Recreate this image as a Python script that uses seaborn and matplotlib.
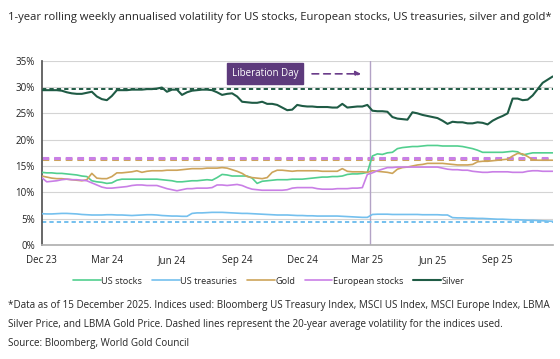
import pandas as pd
import numpy as np
import matplotlib.pyplot as plt
import seaborn as sns

sns.set_theme(style="white")
plt.rcParams['font.family'] = ['Open Sans', 'DejaVu Sans']

## Weekly volatility (%), Dec 23 - Dec 25

dates = pd.date_range('2023-12-31', periods=103, freq='7D')

us_stocks = [
    13.8, 13.7, 13.7, 13.6, 13.6, 13.5, 13.4, 13.3, 13.1, 13.0,
    12.2, 12.0, 11.9, 11.7, 11.8, 12.3, 12.5, 12.5, 12.5, 12.5,
    12.5, 12.5, 12.5, 12.5, 12.4, 12.3, 12.2, 12.0, 12.0, 12.1,
    12.2, 12.2, 12.3, 12.4, 12.3, 12.8, 13.4, 13.3, 13.1, 13.1,
    13.1, 13.1, 12.7, 11.7, 12.1, 12.2, 12.3, 12.4, 12.4, 12.4,
    12.5, 12.5, 12.5, 12.6, 12.7, 12.8, 12.9, 12.9, 13.0, 13.0,
    13.1, 13.4, 13.5, 13.5, 13.6, 13.8, 16.9, 17.3, 17.2, 17.5,
    17.6, 18.3, 18.5, 18.6, 18.7, 18.7, 18.8, 18.9, 18.9, 18.9,
    18.8, 18.8, 18.8, 18.8, 18.7, 18.5, 18.3, 18.0, 17.6, 17.6,
    17.6, 17.6, 17.6, 17.7, 17.8, 17.7, 17.1, 17.3, 17.5, 17.5,
    17.5, 17.5, 17.5,
]

us_treasuries = [
    5.95, 5.9, 5.9, 5.95, 6.0, 6.0, 5.95, 5.9, 5.8, 5.75,
    5.7, 5.7, 5.7, 5.75, 5.75, 5.7, 5.7, 5.65, 5.6, 5.65,
    5.7, 5.75, 5.75, 5.7, 5.6, 5.55, 5.5, 5.5, 5.45, 5.45,
    6.0, 6.1, 6.1, 6.15, 6.2, 6.2, 6.2, 6.15, 6.1, 6.05,
    6.0, 6.0, 5.95, 5.9, 5.85, 5.8, 5.75, 5.7, 5.7, 5.7,
    5.65, 5.6, 5.6, 5.55, 5.55, 5.5, 5.5, 5.5, 5.5, 5.5,
    5.45, 5.4, 5.35, 5.3, 5.25, 5.25, 5.8, 5.85, 5.85, 5.85,
    5.8, 5.8, 5.8, 5.8, 5.8, 5.8, 5.75, 5.75, 5.75, 5.75,
    5.7, 5.7, 5.2, 5.15, 5.15, 5.1, 5.1, 5.05, 5.05, 5.0,
    4.95, 4.9, 4.9, 4.85, 4.8, 4.8, 4.75, 4.7, 4.7, 4.65,
    4.6, 4.55, 4.5,
]

gold = [
    13.1, 12.9, 12.7, 12.6, 12.6, 12.5, 12.4, 12.3, 12.2, 12.4,
    13.6, 12.7, 12.6, 12.6, 13.0, 13.7, 13.7, 13.8, 13.9, 14.1,
    13.8, 14.0, 14.1, 14.1, 14.1, 14.2, 14.2, 14.2, 14.3, 14.4,
    14.5, 14.5, 14.5, 14.6, 14.6, 14.6, 14.7, 14.6, 14.3, 14.0,
    13.6, 13.0, 12.8, 12.7, 12.6, 12.8, 13.8, 14.2, 14.2, 14.1,
    14.0, 14.1, 14.1, 14.1, 14.1, 14.1, 14.0, 14.0, 14.0, 14.0,
    14.5, 14.0, 13.9, 13.9, 13.9, 13.8, 14.1, 14.0, 13.9, 13.8,
    13.6, 14.4, 14.7, 14.8, 15.0, 15.2, 15.3, 15.5, 15.5, 15.5,
    15.5, 15.4, 15.3, 15.2, 15.2, 15.2, 15.3, 15.8, 15.9, 15.9,
    16.0, 16.1, 16.2, 16.3, 16.9, 17.4, 17.3, 16.8, 16.2, 16.1,
    16.1, 16.1, 16.1,
]

european_stocks = [
    12.8, 12.0, 12.1, 12.2, 12.4, 12.5, 12.4, 12.4, 12.3, 12.2,
    11.8, 11.4, 11.0, 10.8, 10.8, 10.9, 11.0, 11.1, 11.3, 11.4,
    11.4, 11.3, 11.3, 11.3, 11.0, 10.7, 10.5, 10.3, 10.5, 10.7,
    10.7, 10.8, 10.8, 10.8, 10.9, 11.4, 11.4, 11.3, 11.4, 11.5,
    11.3, 10.9, 10.6, 10.5, 10.4, 10.4, 10.4, 10.4, 10.4, 10.5,
    10.8, 10.9, 10.9, 10.9, 10.9, 10.7, 10.6, 10.6, 10.6, 10.7,
    10.7, 10.7, 10.8, 10.8, 10.9, 13.4, 13.7, 14.1, 14.4, 14.7,
    14.7, 14.8, 14.8, 14.8, 14.8, 14.8, 14.8, 14.8, 14.8, 14.8,
    14.6, 14.4, 14.3, 14.3, 14.2, 14.2, 14.0, 13.9, 13.8, 13.8,
    13.9, 13.9, 13.9, 13.9, 13.8, 13.8, 13.8, 14.0, 14.1, 14.1,
    14.0, 14.0, 14.0,
]

silver = [
    29.4, 29.4, 29.4, 29.4, 29.3, 29.0, 28.8, 28.7, 28.7, 28.9,
    29.1, 28.2, 27.7, 27.5, 28.3, 29.4, 29.4, 29.4, 29.5, 29.5,
    29.5, 29.6, 29.6, 29.7, 29.9, 29.1, 29.5, 29.5, 28.5, 29.0,
    29.3, 29.4, 29.5, 29.5, 29.4, 29.0, 28.5, 28.7, 28.8, 28.2,
    27.2, 27.1, 27.0, 27.0, 27.2, 26.8, 26.8, 26.6, 26.1, 25.6,
    25.7, 26.6, 26.4, 26.3, 26.3, 26.2, 26.2, 26.2, 26.1, 26.1,
    26.8, 26.1, 26.2, 26.3, 26.3, 26.6, 25.5, 25.4, 25.4, 25.3,
    24.3, 24.0, 23.9, 23.8, 25.2, 25.0, 24.7, 24.5, 24.3, 24.1,
    23.6, 23.0, 23.4, 23.3, 23.3, 23.1, 23.1, 23.3, 23.2, 22.9,
    23.6, 24.1, 24.5, 25.0, 27.8, 27.8, 27.5, 27.6, 28.4, 29.6,
    30.8, 31.4, 32.0,
]

# 20-year average volatility (dashed lines)
avg_20y = {'Silver': 29.7, 'Gold': 16.3, 'European stocks': 16.55, 'US treasuries': 4.35}

series = ['US stocks', 'US treasuries', 'Gold', 'European stocks', 'Silver']
colors = {'US stocks': '#52cf8f', 'US treasuries': '#74c0ee', 'Gold': '#cda45a',
          'European stocks': '#c97fe6', 'Silver': '#1f5b45'}

df = pd.DataFrame({'date': dates, 'US stocks': us_stocks, 'US treasuries': us_treasuries,
                   'Gold': gold, 'European stocks': european_stocks, 'Silver': silver})
long_df = df.melt(id_vars='date', var_name='series', value_name='vol')

fig = plt.figure(figsize=(5.6, 3.59), dpi=100)
ax = fig.add_axes([0.0745, 0.3175, 0.9125, 0.5135])

for name, val in avg_20y.items():
    lw = 2.2 if name in ('Gold', 'European stocks') else 1.4
    ax.axhline(val, color=colors[name], lw=lw, ls=(0, (2.2, 1.6)), zorder=2)

for name in series:
    sns.lineplot(data=long_df[long_df['series'] == name], x='date', y='vol',
                 color=colors[name], lw=1.5 if name == 'Silver' else 1.2,
                 label=name, ax=ax, zorder=3)

lib_day = pd.Timestamp('2025-04-02')
ax.axvline(lib_day, color='#b3a3c6', lw=1.0, zorder=1)

week = pd.Timedelta(days=7)
ax.annotate('', xy=(dates[0] + 64.3 * week, 32.5), xytext=(dates[0] + 53.4 * week, 32.5),
            arrowprops=dict(arrowstyle='-|>', color='#6b3d8a', lw=1.2, ls=(0, (4, 3)),
                            mutation_scale=8))
ax.text(dates[0] + 44.6 * week, 32.5, 'Liberation Day', color='white', fontsize=7,
        ha='center', va='center',
        bbox=dict(boxstyle='square,pad=0.5', fc='#5d3a7c', ec='#5d3a7c'))

ax.set_xlim(dates[0], dates[-1])
ax.set_ylim(0, 35)
ax.set_yticks(range(0, 36, 5))
ax.set_yticklabels([f'{v}%' for v in range(0, 36, 5)], fontsize=7)
ax.set_xticks(dates[::13])
ax.set_xticklabels([d.strftime('%b %y') for d in dates[::13]], fontsize=7)
ax.set_xlabel('')
ax.set_ylabel('')
ax.grid(axis='y', color='#d4d4d4', lw=0.8)
ax.grid(axis='x', visible=False)
sns.despine(ax=ax)
ax.spines['left'].set_color('#555555')
ax.spines['bottom'].set_color('#b0b0b0')
ax.tick_params(axis='both', length=3, pad=2, colors='#222222', direction='out')
ax.tick_params(axis='x', color='#b0b0b0', pad=4)
ax.tick_params(axis='y', color='#555555')

handles, labels = ax.get_legend_handles_labels()
ax.get_legend().remove()
fig.legend(handles, labels, loc='center', bbox_to_anchor=(0.48, 0.217), ncol=5,
           frameon=False, fontsize=6.6, handlelength=3.0, handletextpad=0.05,
           columnspacing=1.1)

fig.text(0.014, 0.952, '1-year rolling weekly annualised volatility for US stocks, European stocks, '
         'US treasuries, silver and gold*', fontsize=8.1, va='center')
fig.text(0.014, 0.15, '*Data as of 15 December 2025. Indices used: Bloomberg US Treasury Index, '
         'MSCI US Index, MSCI Europe Index, LBMA', fontsize=7.1, va='center')
fig.text(0.014, 0.097, 'Silver Price, and LBMA Gold Price. Dashed lines represent the 20-year '
         'average volatility for the indices used.', fontsize=7.1, va='center')
fig.text(0.014, 0.044, 'Source: Bloomberg, World Gold Council', fontsize=7.1, va='center')

fig.savefig('out.png', dpi=100)
